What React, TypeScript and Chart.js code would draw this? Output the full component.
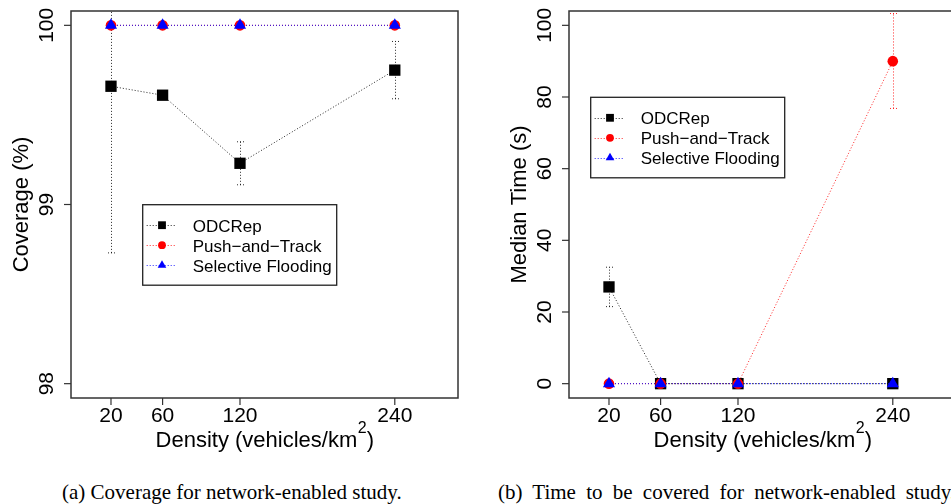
import React, { useEffect, useRef } from "react";
import { Chart, registerables } from "chart.js";

Chart.register(...registerables);

// ---------- data ----------
const densities = [20, 60, 120, 240];
const xTickLabels = [20, 60, 120, 240];
const coverageTicks = [98, 99, 100];
const timeTicks = [0, 20, 40, 60, 80, 100];

const seriesNames = ["ODCRep", "Push\u2212and\u2212Track", "Selective Flooding"];

// (a) coverage (%)
const covODCRep = [99.66, 99.61, 99.23, 99.75];
const covODCRepLow = [98.73, 99.61, 99.11, 99.59];
const covODCRepHigh = [100.59, 99.61, 99.35, 99.91];
const covPushTrack = [100, 100, 100, 100];
const covSelFlood = [100, 100, 100, 100];

// (b) median time (s)
const timeODCRep = [27, 0, 0, 0];
const timeODCRepLow = [21.5, 0, 0, 0];
const timeODCRepHigh = [32.5, 0, 0, 0];
const timePushTrack = [0, 0, 0, 90];
const timePushTrackLow = [0, 0, 0, 76.8];
const timePushTrackHigh = [0, 0, 0, 103.3];
const timeSelFlood = [0, 0, 0, 0];

// ---------- styles ----------
const seriesColors = ["#000000", "#ff0000", "#0000ff"];
const lineColors = ["rgba(0,0,0,0.85)", "rgba(255,0,0,0.85)", "rgba(0,0,255,0.85)"];
const seriesShapes = ["rect", "circle", "triangle"];
const pointRadii = [8, 5.3, 7];
const SANS = "'Liberation Sans', Arial, Helvetica, sans-serif";

type PanelCfg = {
  key: string;
  series: number[][];
  errors: { color: string; lo: number[]; hi: number[] }[];
  yMin: number;
  yMax: number;
  yTicks: number[];
  yTitle: string;
  legendDx: number;
  legendTop: number;
};

function line(ctx: CanvasRenderingContext2D, x1: number, y1: number, x2: number, y2: number) {
  ctx.beginPath();
  ctx.moveTo(x1, y1);
  ctx.lineTo(x2, y2);
  ctx.stroke();
}

function drawMarker(ctx: CanvasRenderingContext2D, shape: string, x: number, y: number, color: string) {
  ctx.fillStyle = color;
  ctx.beginPath();
  if (shape === "rect") {
    ctx.rect(x - 3.9, y - 3.9, 7.8, 7.8);
  } else if (shape === "circle") {
    ctx.arc(x, y, 3.9, 0, Math.PI * 2);
  } else {
    const r = 5;
    ctx.moveTo(x, y - r);
    ctx.lineTo(x + 0.866 * r, y + 0.5 * r);
    ctx.lineTo(x - 0.866 * r, y + 0.5 * r);
    ctx.closePath();
  }
  ctx.fill();
}

function makeRPlugin(cfg: PanelCfg) {
  return {
    id: "rplot_" + cfg.key,
    beforeDatasetsDraw(chart: any) {
      const { ctx, chartArea: ca, scales } = chart;
      const xs = scales.x;
      const ys = scales.y;
      ctx.save();
      ctx.beginPath();
      ctx.rect(ca.left, ca.top, ca.right - ca.left, ca.bottom - ca.top);
      ctx.clip();
      ctx.lineWidth = 1;
      ctx.setLineDash([1, 2]);
      cfg.errors.forEach((e) => {
        ctx.strokeStyle = e.color;
        densities.forEach((d, j) => {
          const lo = e.lo[j];
          const hi = e.hi[j];
          if (hi - lo <= 0) return;
          const px = Math.round(xs.getPixelForValue(d)) + 0.5;
          const y1 = ys.getPixelForValue(lo);
          const y2 = ys.getPixelForValue(hi);
          line(ctx, px, y1, px, y2);
          line(ctx, px - 3.5, y1, px + 3.5, y1);
          line(ctx, px - 3.5, y2, px + 3.5, y2);
        });
      });
      ctx.restore();
    },
    afterDraw(chart: any) {
      const { ctx, chartArea: ca, scales } = chart;
      const xs = scales.x;
      const ys = scales.y;
      ctx.save();
      ctx.setLineDash([]);
      // plot box
      ctx.strokeStyle = "#333";
      ctx.lineWidth = 1.5;
      ctx.strokeRect(ca.left, ca.top, ca.right - ca.left, ca.bottom - ca.top);
      // ticks
      ctx.lineWidth = 1.2;
      ctx.fillStyle = "#000";
      ctx.font = "21px " + SANS;
      ctx.textAlign = "center";
      ctx.textBaseline = "alphabetic";
      xTickLabels.forEach((v) => {
        const px = xs.getPixelForValue(v);
        line(ctx, px, ca.bottom, px, ca.bottom + 7);
        ctx.fillText(String(v), px, ca.bottom + 23.5);
      });
      cfg.yTicks.forEach((v) => {
        const py = ys.getPixelForValue(v);
        line(ctx, ca.left - 7, py, ca.left, py);
        ctx.save();
        ctx.translate(ca.left - 17.7, py);
        ctx.rotate(-Math.PI / 2);
        ctx.fillText(String(v), 0, 0);
        ctx.restore();
      });
      // y title
      ctx.font = "22px " + SANS;
      ctx.save();
      ctx.translate(ca.left - 43, (ca.top + ca.bottom) / 2);
      ctx.rotate(-Math.PI / 2);
      ctx.fillText(cfg.yTitle, 0, 0);
      ctx.restore();
      // x title with superscript
      const main = "Density (vehicles/km";
      const sup = "2";
      const close = ")";
      ctx.font = "22px " + SANS;
      const w1 = ctx.measureText(main).width;
      const w3 = ctx.measureText(close).width;
      ctx.font = "16px " + SANS;
      const w2 = ctx.measureText(sup).width;
      const cx = (ca.left + ca.right) / 2;
      const x0 = cx - (w1 + w2 + w3) / 2;
      const base = ca.bottom + 49.3;
      ctx.textAlign = "left";
      ctx.font = "22px " + SANS;
      ctx.fillText(main, x0, base);
      ctx.fillText(close, x0 + w1 + w2 + 0.5, base);
      ctx.font = "16px " + SANS;
      ctx.fillText(sup, x0 + w1 + 0.5, base - 14.5);
      // legend
      const L = ca.left + cfg.legendDx;
      const T = cfg.legendTop;
      ctx.strokeStyle = "#222";
      ctx.lineWidth = 1.3;
      ctx.strokeRect(L, T, 194, 80.5);
      ctx.font = "17px " + SANS;
      ctx.textAlign = "left";
      seriesNames.forEach((name, i) => {
        const y = T + 20.5 + 20 * i;
        ctx.strokeStyle = lineColors[i];
        ctx.lineWidth = 1;
        ctx.setLineDash([1, 2]);
        line(ctx, L + 4, Math.round(y) + 0.5, L + 33.5, Math.round(y) + 0.5);
        ctx.setLineDash([]);
        drawMarker(ctx, seriesShapes[i], L + 19.3, y, seriesColors[i]);
        ctx.fillStyle = "#000";
        ctx.fillText(name, L + 50, y + 6.3);
      });
      ctx.restore();
    },
  };
}

function RPanel({ cfg, left }: { cfg: PanelCfg; left: number }) {
  const ref = useRef<HTMLCanvasElement | null>(null);
  useEffect(() => {
    if (!ref.current) return;
    const datasets = cfg.series.map((vals, i) => ({
      label: seriesNames[i],
      data: densities.map((x, j) => ({ x, y: vals[j] })),
      showLine: true,
      fill: false,
      tension: 0,
      borderColor: lineColors[i],
      backgroundColor: seriesColors[i],
      borderWidth: 1,
      borderDash: [1, 2],
      pointStyle: seriesShapes[i],
      pointRadius: pointRadii[i],
      pointHoverRadius: pointRadii[i],
      pointBackgroundColor: seriesColors[i],
      pointBorderColor: seriesColors[i],
      pointBorderWidth: 0,
      order: 3 - i,
    }));
    const chart = new Chart(ref.current, {
      type: "scatter",
      data: { datasets },
      options: {
        responsive: true,
        maintainAspectRatio: false,
        animation: false,
        events: [],
        layout: { padding: { left: 71, top: 11, right: 17, bottom: 62 } },
        plugins: { legend: { display: false }, tooltip: { enabled: false } },
        scales: {
          x: { type: "linear", min: -11, max: 289, display: false },
          y: { type: "linear", min: cfg.yMin, max: cfg.yMax, display: false },
        },
      } as any,
      plugins: [makeRPlugin(cfg)],
    });
    return () => chart.destroy();
  }, []);
  return (
    <div style={{ position: "absolute", left, top: 0, width: 475, height: 460 }}>
      <canvas ref={ref} />
    </div>
  );
}

const coverageCfg: PanelCfg = {
  key: "cov",
  series: [covODCRep, covPushTrack, covSelFlood],
  errors: [{ color: "rgba(0,0,0,0.85)", lo: covODCRepLow, hi: covODCRepHigh }],
  yMin: 97.92,
  yMax: 100.08,
  yTicks: coverageTicks,
  yTitle: "Coverage (%)",
  legendDx: 71.7,
  legendTop: 204.7,
};

const timeCfg: PanelCfg = {
  key: "time",
  series: [timeODCRep, timePushTrack, timeSelFlood],
  errors: [
    { color: "rgba(0,0,0,0.85)", lo: timeODCRepLow, hi: timeODCRepHigh },
    { color: "rgba(255,0,0,0.85)", lo: timePushTrackLow, hi: timePushTrackHigh },
  ],
  yMin: -4,
  yMax: 104,
  yTicks: timeTicks,
  yTitle: "Median Time (s)",
  legendDx: 21.7,
  legendTop: 97.3,
};

const captionStyle: React.CSSProperties = {
  position: "absolute",
  top: 482,
  fontFamily: "'Liberation Serif', 'Times New Roman', serif",
  fontSize: 21,
  lineHeight: "21px",
  whiteSpace: "nowrap",
  color: "#000",
};

export default function App() {
  return (
    <div
      style={{
        position: "fixed",
        left: 0,
        top: 0,
        width: 951,
        height: 504,
        overflow: "hidden",
        background: "#fff",
      }}
    >
      <RPanel cfg={coverageCfg} left={0} />
      <RPanel cfg={timeCfg} left={498} />
      <div style={{ ...captionStyle, left: 62 }}>(a) Coverage for network-enabled study.</div>
      <div style={{ ...captionStyle, left: 498, wordSpacing: 5 }}>
        (b) Time to be covered for network-enabled study.
      </div>
    </div>
  );
}
